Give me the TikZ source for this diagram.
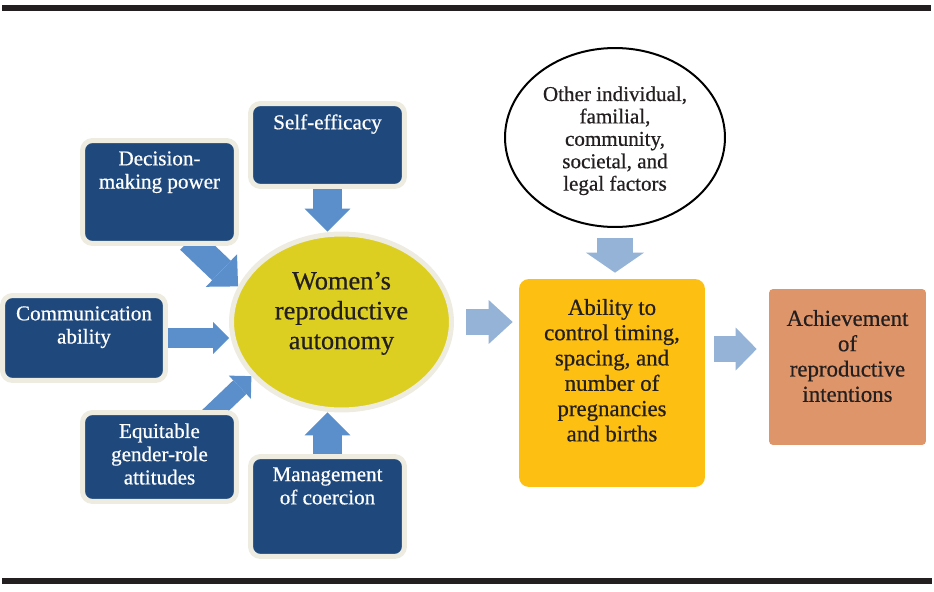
\documentclass[tikz,border=0pt]{standalone}
\usepackage{fontspec}
\setmainfont{Liberation Serif}[FakeBold=0.6]
\usetikzlibrary{positioning,calc,shapes.geometric,arrows.meta,backgrounds}
\definecolor{boxblue}{HTML}{1F497D}
\definecolor{rimgrey}{HTML}{EEECE1}
\definecolor{arrblue}{HTML}{5B8FCB}
\definecolor{arrlight}{HTML}{95B3D7}
\definecolor{autoyellow}{HTML}{DDCF22}
\definecolor{abilgold}{HTML}{FDC012}
\definecolor{achorange}{HTML}{DF956A}
\definecolor{inkblack}{HTML}{231F20}
\begin{document}
\begin{tikzpicture}[x=0.02cm,y=-0.02cm,
  factor/.style={draw=rimgrey,fill=boxblue,line width=0.1cm,rounded corners=0.2cm,minimum width=3.08cm,inner sep=0pt},
  factortxt/.style={text=white,align=center,inner sep=0pt,font=\fontsize{12}{13.2}\selectfont},
  bodytxt/.style={text=inkblack,align=center,inner sep=0pt,font=\fontsize{13}{14.4}\selectfont},
  blockarr/.style n args={4}{draw=#1,line width=#2,-{Triangle[width=#3,length=#4,line width=0pt]}}]
  \useasboundingbox (0,0) rectangle (934,592);
  \fill[inkblack] (2,5) rectangle (931,11);
  \fill[inkblack] (2,578) rectangle (932,584);
  \node[factor,minimum height=1.66cm] (self) at (327.5,145) {};
  \node[factor,minimum height=2.06cm] (dec) at (159.5,192) {};
  \node[factor,minimum width=3.26cm,minimum height=1.7cm] (comm) at (84,338) {};
  \node[factor,minimum height=1.78cm] (eq) at (159.5,457) {};
  \node[factor,minimum height=2cm] (mgmt) at (327.5,506.5) {};
  \node[ellipse,draw=rimgrey,fill=autoyellow,line width=0.1cm,minimum width=4.4cm,minimum height=3.52cm,inner sep=0pt] (auto) at (341.5,322) {};
  \node[ellipse,draw=black,fill=white,line width=0.04cm,minimum width=4.4cm,minimum height=3.58cm,inner sep=0pt] (other) at (615,137.5) {};
  \node[fill=abilgold,rounded corners=0.2cm,minimum width=3.72cm,minimum height=4.16cm] (ability) at (612,383) {};
  \node[fill=achorange,rounded corners=0.08cm,minimum width=3.14cm,minimum height=3.12cm] (ach) at (847.5,367) {};
  \node[factortxt,below=0.26cm of self.north] (selftxt) {Self-efficacy};
  \node[factortxt,below=0.26cm of dec.north] (dectxt) {Decision-\\making power};
  \node[factortxt,below=0.26cm of comm.north] (commtxt) {Communication\\ability};
  \node[factortxt,below=0.26cm of eq.north] (eqtxt) {Equitable\\gender-role\\attitudes};
  \node[factortxt,below=0.26cm of mgmt.north] (mgmttxt) {Management\\of coercion};
  \node[bodytxt,font=\fontsize{15}{17}\selectfont,below=0.8cm of auto.north] (autotxt) {Women’s\\reproductive\\autonomy};
  \node[bodytxt,font=\fontsize{12}{12.75}\selectfont,below=0.78cm of other.north] (othertxt) {Other individual,\\familial,\\community,\\societal, and\\legal factors};
  \node[bodytxt,below=0.4cm of ability.north] (abilitytxt) {Ability to\\control timing,\\spacing, and\\number of\\pregnancies\\and births};
  \node[bodytxt,below=0.42cm of ach.north] (achtxt) {Achievement\\of\\reproductive\\intentions};
  \begin{scope}[on background layer]
    \draw[blockarr={arrblue}{0.58cm}{0.92cm}{0.46cm}] (self.south) -- (self.south |- auto.north);
    \draw[blockarr={arrblue}{0.58cm}{0.92cm}{0.46cm}] (mgmt.north) -- (mgmt.north |- auto.south);
    \draw[blockarr={arrblue}{0.54cm}{0.9cm}{0.46cm}] ($(dec.south)+(30,-6)$) -- (auto.161);
    \draw[blockarr={arrblue}{0.4cm}{0.64cm}{0.32cm}] (comm.east) -- (comm.east -| auto.west);
    \draw[blockarr={arrblue}{0.38cm}{0.64cm}{0.32cm}] ($(eq.north)+(48,8)$) -- (auto.211);
  \end{scope}
  \draw[blockarr={arrlight}{0.52cm}{0.88cm}{0.48cm},shorten <=0.25cm,shorten >=0.12cm] (auto.east) -- (auto.east -| ability.west);
  \draw[blockarr={arrlight}{0.72cm}{1.16cm}{0.4cm},shorten <=0.2cm,shorten >=0.12cm] (other.south) -- (other.south |- ability.north);
  \coordinate (achin) at ([yshift=0.36cm]ach.west);
  \draw[blockarr={arrlight}{0.52cm}{0.86cm}{0.42cm},shorten <=0.18cm,shorten >=0.24cm] (achin -| ability.east) -- (achin);
\end{tikzpicture}
\end{document}
